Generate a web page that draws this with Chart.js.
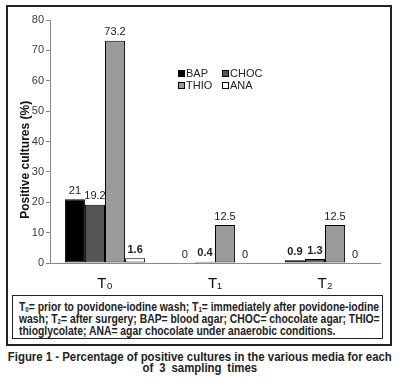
<!DOCTYPE html>
<html>
<head>
<meta charset="utf-8">
<script src="https://cdn.jsdelivr.net/npm/chart.js@4"></script>
<style>
  html, body { margin: 0; padding: 0; background: #fff; }
  #wrap { position: relative; width: 400px; height: 378px; overflow: hidden; font-family: "Liberation Sans", Arial, sans-serif; }
  #outer { position: absolute; left: 6px; top: 5px; width: 382px; height: 337px; border: 2px solid #222; }
  #cv { position: absolute; left: 0; top: 0; }
  #legend { position: absolute; left: 178px; top: 67px; font-size: 11px; color: #222; line-height: 12px; }
  .row { display: flex; height: 12px; }
  .item { display: flex; align-items: center; width: 44px; }
  .sw { width: 5px; height: 5px; border: 1px solid #000; margin-right: 1px; }
  #note { position: absolute; left: 12px; top: 295px; width: 371px; height: 44px; border: 1.5px solid #222; box-sizing: border-box; }
  .nl { position: absolute; left: 6px; white-space: nowrap; font-weight: bold; font-size: 12px; line-height: 12px; color: #222; transform-origin: 0 50%; }
  .nl sub { font-size: 7px; vertical-align: -1px; line-height: 0; }
  .cl { position: absolute; white-space: nowrap; font-weight: bold; font-size: 12.5px; line-height: 12px; color: #222; transform-origin: 50% 50%; }
</style>
</head>
<body>
<div id="wrap">
  <div id="outer"></div>
  <canvas id="cv" width="400" height="295"></canvas>
  <div id="legend">
    <div class="row">
      <div class="item"><span class="sw" style="background:#000"></span>BAP</div>
      <div class="item"><span class="sw" style="background:#555"></span>CHOC</div>
    </div>
    <div class="row">
      <div class="item"><span class="sw" style="background:#9a9a9a"></span>THIO</div>
      <div class="item"><span class="sw" style="background:#fff"></span>ANA</div>
    </div>
  </div>
  <div id="note">
    <span class="nl" id="n1" style="top:5px">T<sub>0</sub>= prior to povidone-iodine wash; T<sub>1</sub>= immediately after povidone-iodine</span>
    <span class="nl" id="n2" style="top:17px">wash; T<sub>2</sub>= after surgery; BAP= blood agar; CHOC= chocolate agar; THIO=</span>
    <span class="nl" id="n3" style="top:29px">thioglycolate; ANA= agar chocolate under anaerobic conditions.</span>
  </div>
  <span class="cl" id="c1" style="top:351px">Figure 1 - Percentage of positive cultures in the various media for each</span>
  <span class="cl" id="c2" style="top:362px;word-spacing:3px">of 3 sampling times</span>
</div>
<script>
// fit text lines to the reference widths
(function () {
  const n1 = document.getElementById("n1");
  const s = 360 / n1.getBoundingClientRect().width;
  ["n1", "n2", "n3"].forEach(id => { document.getElementById(id).style.transform = "scaleX(" + s + ")"; });
  const c1 = document.getElementById("c1");
  const cs = 384 / c1.getBoundingClientRect().width;
  ["c1", "c2"].forEach(id => {
    const el = document.getElementById(id);
    const w = el.getBoundingClientRect().width;
    el.style.left = (200 - w / 2) + "px";
    el.style.transform = "scaleX(" + cs + ")";
  });
})();

const categories = ["T\u2080", "T\u2081", "T\u2082"];
const seriesNames = ["BAP", "CHOC", "THIO", "ANA"];
const BAP = [21, 0, 0.9];
const CHOC = [19.2, 0.4, 1.3];
const THIO = [73.2, 12.5, 12.5];
const ANA = [1.6, 0, 0];
const yTicks = [0, 10, 20, 30, 40, 50, 60, 70, 80];
const yTitle = "Positive cultures (%)";

const colors = ["#000000", "#555555", "#9a9a9a", "#ffffff"];
const values = [BAP, CHOC, THIO, ANA];

const labelPlugin = {
  id: "valueLabels",
  afterDatasetsDraw(chart) {
    const ctx = chart.ctx;
    ctx.save();
    ctx.fillStyle = "#222";
    ctx.textAlign = "center";
    ctx.textBaseline = "bottom";
    chart.data.datasets.forEach((ds, i) => {
      const meta = chart.getDatasetMeta(i);
      meta.data.forEach((el, j) => {
        const v = ds.data[j];
        ctx.font = (v > 0 && v < 2 ? "bold " : "") + "11px 'Liberation Sans', Arial, sans-serif";
        ctx.fillText(String(v), el.x, el.y - 3);
      });
    });
    ctx.restore();
  }
};

new Chart(document.getElementById("cv"), {
  type: "bar",
  data: {
    labels: categories,
    datasets: seriesNames.map((n, i) => ({
      label: n,
      data: values[i],
      backgroundColor: colors[i],
      borderColor: "#000",
      borderWidth: 1,
      borderSkipped: false,
      categoryPercentage: 0.73,
      barPercentage: 1.0
    }))
  },
  options: {
    responsive: false,
    animation: false,
    layout: { padding: { left: 0, right: 20, top: 20, bottom: 0 } },
    plugins: { legend: { display: false }, tooltip: { enabled: false } },
    scales: {
      x: {
        grid: { display: false },
        border: { display: true, color: "#888", width: 1 },
        ticks: { font: { size: 15, family: "'Liberation Sans', Arial, sans-serif" }, color: "#111", padding: 4 },
        afterFit(s) { s.height = 32; }
      },
      y: {
        min: 0, max: 80,
        afterBuildTicks(s) { s.ticks = yTicks.map(v => ({ value: v })); },
        grid: { drawOnChartArea: false, tickLength: 4, color: "#888" },
        border: { display: true, color: "#888", width: 1 },
        ticks: { font: { size: 11, family: "'Liberation Sans', Arial, sans-serif" }, color: "#3a3a3a", padding: 2 },
        title: { display: true, text: yTitle + "           ", font: { size: 12, weight: "bold", family: "'Liberation Sans', Arial, sans-serif" }, color: "#111", padding: { top: 18, bottom: 0 } },
        afterFit(s) { s.width = 50; }
      }
    }
  },
  plugins: [labelPlugin]
});
</script>
</body>
</html>
